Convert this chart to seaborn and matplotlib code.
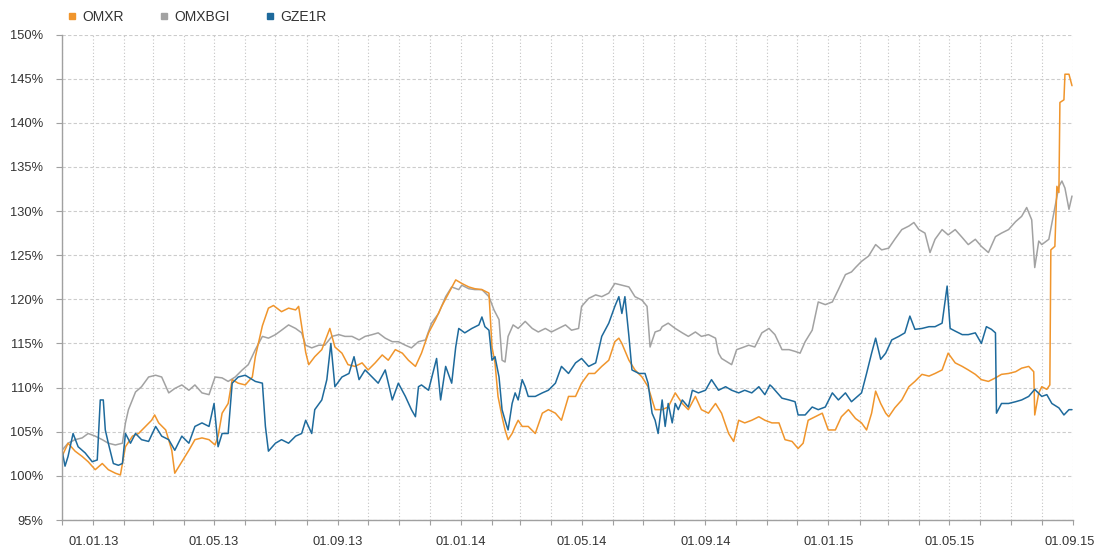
import pandas as pd
import matplotlib
matplotlib.use('Agg')
import matplotlib.pyplot as plt
import matplotlib.dates as mdates
import matplotlib.transforms as mtransforms
from matplotlib.lines import Line2D
from matplotlib.ticker import MultipleLocator, FuncFormatter
import seaborn as sns

# Index values (%), keyed by days after 01.01.13
base_date = pd.Timestamp('2013-01-01')
series_names = ['OMXR', 'OMXBGI', 'GZE1R']
series_colors = ['#f0952c', '#a2a2a2', '#1e6a9c']

omxr_days = [-31, -25, -18, -11, -5, 2, 9, 15, 22, 27, 32, 39, 45, 52, 58, 61, 65, 72, 78, 81,
             88, 95, 101, 108, 115, 121, 124, 128, 134, 138, 144, 151, 158, 161, 168, 174, 179, 187, 194, 201,
             204, 207, 211, 214, 220, 227, 235, 240, 247, 253, 260, 267, 273, 280, 287, 293, 300, 307, 313, 320,
             326, 333, 340, 346, 353, 360, 366, 373, 379, 386, 393, 396, 399, 402, 406, 409, 412, 416, 419, 422,
             426, 432, 439, 446, 452, 459, 465, 472, 479, 485, 492, 498, 505, 512, 518, 522, 525, 532, 538, 545,
             551, 558, 565, 571, 578, 585, 591, 598, 604, 611, 618, 624, 631, 636, 641, 647, 654, 661, 667, 674,
             681, 687, 694, 700, 705, 710, 717, 724, 730, 737, 743, 750, 757, 763, 768, 773, 777, 782, 787, 790,
             796, 803, 810, 816, 823, 830, 836, 843, 849, 856, 863, 869, 876, 882, 889, 896, 902, 909, 916, 922,
             929, 934, 935, 939, 942, 947, 950, 951, 955, 957, 959, 960, 964, 965, 969, 972]
omxr_vals = [102.2, 103.7, 102.8, 102.2, 101.6, 100.7, 101.4, 100.7, 100.3, 100.1, 103.3, 104.5, 104.8, 105.6, 106.3, 106.9, 106.0, 105.2, 102.9, 100.3,
             101.6, 102.9, 104.1, 104.3, 104.1, 103.5, 104.5, 107.1, 108.2, 110.9, 110.5, 110.3, 111.2, 113.5, 117.0, 119.0, 119.3, 118.6, 119.0, 118.8,
             119.2, 117.0, 114.0, 112.6, 113.5, 114.3, 116.7, 114.6, 113.9, 112.6, 112.4, 112.8, 112.0, 112.8, 113.7, 113.1, 114.3, 113.9, 113.1, 112.4,
             113.9, 116.2, 117.7, 119.2, 120.7, 122.2, 121.8, 121.4, 121.2, 121.1, 120.7, 114.6, 112.8, 109.0, 106.7, 105.2, 104.1, 104.8, 105.6, 106.3,
             105.6, 105.6, 104.8, 107.1, 107.5, 107.1, 106.3, 109.0, 109.0, 110.5, 111.6, 111.6, 112.4, 113.1, 115.2, 115.6, 115.0, 113.1, 112.0, 111.2,
             110.1, 107.5, 107.5, 107.8, 109.4, 108.2, 107.5, 109.0, 107.5, 107.1, 108.2, 107.1, 104.8, 103.9, 106.3, 106.0, 106.3, 106.7, 106.3, 106.0,
             106.0, 104.1, 103.9, 103.1, 103.7, 106.3, 106.7, 107.1, 105.2, 105.2, 106.7, 107.5, 106.5, 106.0, 105.2, 107.1, 109.6, 108.2, 107.1, 106.7,
             107.7, 108.6, 110.1, 110.7, 111.5, 111.3, 111.6, 112.0, 113.9, 112.8, 112.4, 112.0, 111.5, 110.9, 110.7, 111.1, 111.5, 111.6, 111.8, 112.2,
             112.4, 111.8, 106.9, 109.4, 110.1, 109.8, 110.3, 125.6, 126.0, 132.8, 132.1, 142.3, 142.6, 145.5, 145.5, 144.2]

omxbgi_days = [-31, -25, -18, -11, -5, 2, 9, 15, 22, 29, 32, 35, 42, 48, 55, 62, 68, 75, 81, 88,
               95, 101, 108, 115, 121, 128, 134, 141, 148, 154, 161, 168, 174, 181, 187, 194, 201, 207, 211, 217,
               224, 230, 237, 244, 250, 257, 264, 270, 277, 283, 290, 297, 303, 310, 316, 323, 330, 336, 343, 350,
               356, 363, 366, 373, 379, 386, 393, 398, 403, 406, 409, 412, 417, 422, 429, 436, 442, 449, 455, 462,
               469, 475, 482, 485, 492, 499, 505, 512, 518, 525, 532, 538, 545, 550, 553, 558, 563, 565, 571, 578,
               585, 591, 598, 604, 611, 618, 621, 624, 631, 634, 639, 644, 651, 657, 664, 671, 677, 684, 691, 697,
               702, 707, 714, 720, 727, 734, 740, 747, 753, 757, 763, 770, 777, 783, 790, 796, 803, 810, 815, 820,
               826, 831, 836, 843, 849, 856, 863, 869, 876, 882, 889, 896, 902, 909, 916, 922, 927, 932, 935, 939,
               942, 949, 954, 959, 962, 965, 969, 972]
omxbgi_vals = [102.9, 103.7, 104.1, 104.3, 104.8, 104.5, 104.1, 103.7, 103.5, 103.7, 106.0, 107.5, 109.5, 110.1, 111.2, 111.4, 111.2, 109.4, 109.9, 110.3,
               109.7, 110.3, 109.4, 109.2, 111.2, 111.1, 110.7, 111.2, 112.0, 112.6, 114.3, 115.8, 115.6, 116.0, 116.5, 117.1, 116.7, 116.2, 114.8, 114.5,
               114.8, 114.8, 115.8, 116.0, 115.8, 115.8, 115.4, 115.8, 116.0, 116.2, 115.6, 115.2, 115.2, 114.8, 114.5, 115.2, 115.4, 117.3, 118.4, 120.3,
               121.4, 121.1, 121.6, 121.2, 121.1, 121.1, 120.3, 118.8, 117.7, 113.1, 112.9, 115.8, 117.1, 116.7, 117.5, 116.7, 116.3, 116.7, 116.3, 116.7,
               117.1, 116.5, 116.7, 119.2, 120.1, 120.5, 120.3, 120.7, 121.8, 121.6, 121.4, 120.3, 119.9, 119.2, 114.6, 116.3, 116.5, 116.9, 117.3, 116.7,
               116.2, 115.8, 116.3, 115.8, 116.0, 115.6, 113.9, 113.3, 112.8, 112.6, 114.3, 114.5, 114.8, 114.6, 116.2, 116.7, 116.0, 114.3, 114.3, 114.1,
               113.9, 115.2, 116.5, 119.7, 119.4, 119.7, 121.1, 122.8, 123.1, 123.6, 124.3, 124.9, 126.2, 125.6, 125.8, 126.8, 127.9, 128.3, 128.7, 127.9,
               127.5, 125.3, 126.8, 127.9, 127.3, 127.9, 127.0, 126.2, 126.8, 126.0, 125.3, 127.1, 127.5, 127.9, 128.8, 129.4, 130.4, 129.0, 123.6, 126.6,
               126.2, 126.8, 129.8, 132.8, 133.4, 132.6, 130.2, 131.7]

gze1r_days = [-31, -28, -25, -20, -15, -8, -1, 4, 7, 10, 12, 15, 20, 25, 29, 32, 37, 42, 48, 55,
              62, 68, 75, 81, 88, 95, 101, 108, 115, 120, 124, 128, 134, 138, 144, 151, 158, 161, 168, 171,
              174, 181, 187, 194, 201, 207, 211, 217, 220, 227, 232, 236, 240, 247, 254, 259, 264, 270, 277, 283,
              290, 297, 303, 310, 316, 320, 323, 326, 333, 341, 345, 350, 356, 360, 363, 369, 376, 383, 386, 389,
              393, 396, 399, 403, 406, 409, 412, 416, 419, 422, 426, 429, 432, 439, 446, 452, 459, 465, 472, 479,
              485, 492, 499, 505, 512, 518, 522, 525, 528, 532, 535, 542, 548, 551, 555, 558, 561, 565, 568, 571,
              575, 578, 581, 585, 591, 595, 601, 608, 614, 621, 628, 634, 641, 647, 654, 661, 667, 672, 674, 684,
              691, 697, 700, 707, 714, 720, 727, 734, 740, 747, 753, 763, 768, 773, 777, 782, 787, 793, 800, 806,
              811, 816, 823, 830, 836, 843, 848, 851, 856, 863, 869, 876, 882, 887, 892, 896, 897, 902, 909, 916,
              922, 929, 935, 942, 947, 952, 959, 964, 969, 972]
gze1r_vals = [102.9, 101.1, 102.2, 104.8, 103.3, 102.6, 101.6, 101.8, 108.6, 108.6, 105.2, 103.7, 101.4, 101.2, 101.4, 104.8, 103.7, 104.8, 104.1, 103.9,
              105.6, 104.5, 104.1, 102.9, 104.5, 103.7, 105.6, 106.0, 105.6, 108.2, 103.3, 104.8, 104.8, 110.5, 111.2, 111.4, 110.9, 110.7, 110.5, 105.6,
              102.8, 103.7, 104.1, 103.7, 104.5, 104.8, 106.3, 104.8, 107.5, 108.6, 110.9, 115.0, 110.1, 111.2, 111.6, 113.5, 110.9, 112.0, 111.2, 110.5,
              112.0, 108.6, 110.5, 109.0, 107.5, 106.7, 110.1, 110.3, 109.7, 113.3, 108.6, 112.4, 110.5, 114.6, 116.7, 116.2, 116.7, 117.1, 118.0, 116.9,
              116.5, 113.1, 113.5, 111.2, 107.5, 106.3, 105.2, 108.2, 109.4, 108.6, 110.9, 110.1, 109.0, 109.0, 109.4, 109.7, 110.5, 112.4, 111.6, 112.8,
              113.3, 112.4, 112.8, 115.8, 117.3, 119.2, 120.3, 118.4, 120.3, 115.8, 112.0, 111.6, 111.6, 110.5, 107.1, 106.3, 104.8, 108.6, 105.6, 108.2,
              106.0, 108.2, 107.5, 108.6, 107.8, 109.7, 109.4, 109.7, 110.9, 109.7, 110.1, 109.7, 109.4, 109.7, 109.4, 110.1, 109.2, 110.3, 110.1, 108.8,
              108.6, 108.4, 106.9, 106.9, 107.8, 107.5, 107.8, 109.4, 108.6, 109.4, 108.4, 109.4, 111.6, 113.9, 115.6, 113.2, 113.9, 115.4, 115.8, 116.2,
              118.1, 116.6, 116.7, 116.9, 116.9, 117.3, 121.5, 116.7, 116.4, 116.0, 116.0, 116.2, 115.0, 116.9, 116.6, 116.2, 107.1, 108.2, 108.2, 108.4,
              108.6, 109.0, 109.8, 109.0, 109.2, 108.2, 107.7, 106.9, 107.5, 107.5]

x_start = pd.Timestamp('2012-12-01')
x_end = pd.Timestamp('2015-09-01')
y_min, y_max = 95, 150

sns.set_style('white')
plt.rcParams['font.family'] = ['Liberation Sans', 'DejaVu Sans']

fig = plt.figure(figsize=(10.96, 5.46), dpi=100)
ax = fig.add_axes([62 / 1096, 26 / 546, 1011 / 1096, 485.5 / 546])

# Draw order: gray at the back, blue on top
draw_order = [('OMXBGI', omxbgi_days, omxbgi_vals), ('OMXR', omxr_days, omxr_vals), ('GZE1R', gze1r_days, gze1r_vals)]
color_map = dict(zip(series_names, series_colors))
for name, days, vals in draw_order:
    df = pd.DataFrame({'date': base_date + pd.to_timedelta(days, unit='D'), 'value': vals})
    sns.lineplot(data=df, x='date', y='value', ax=ax, color=color_map[name],
                 linewidth=1.1, estimator=None, legend=False)

ax.set_xlim(x_start, x_end)
ax.set_ylim(y_min, y_max)
ax.set_xlabel('')
ax.set_ylabel('')

ax.yaxis.set_major_locator(MultipleLocator(5))
ax.yaxis.set_major_formatter(FuncFormatter(lambda v, p: f'{v:.0f}%'))
ax.xaxis.set_major_locator(mdates.MonthLocator(bymonth=[1, 5, 9]))
ax.xaxis.set_minor_locator(mdates.MonthLocator())
ax.xaxis.set_major_formatter(mdates.DateFormatter('%d.%m.%y'))

ax.grid(axis='y', which='major', color='#cccccc', linestyle=(0, (3, 2)), linewidth=0.8)
ax.grid(axis='x', which='both', color='#c4c4c4', linestyle=(0, (1, 2)), linewidth=0.8)
ax.set_axisbelow(True)

for side in ['top', 'right']:
    ax.spines[side].set_visible(False)
for side in ['left', 'bottom']:
    ax.spines[side].set_color('#a0a0a0')
    ax.spines[side].set_linewidth(1.0)

ax.tick_params(axis='both', which='both', colors='#a0a0a0', labelcolor='#333333', labelsize=9.3)
ax.tick_params(axis='y', which='major', length=4.5, width=0.8, pad=9, left=True)
ax.tick_params(axis='x', which='both', length=3.5, width=0.8, bottom=True)
ax.tick_params(axis='x', which='major', pad=8)

# keep the last date label inside the canvas
fig.canvas.draw()
last_label = ax.get_xticklabels()[-1]
last_label.set_transform(last_label.get_transform() + mtransforms.ScaledTranslation(-3 / 100, 0, fig.dpi_scale_trans))

handles = [Line2D([], [], marker='s', linestyle='none', markersize=5, color=c) for c in series_colors]
fig.legend(handles, series_names, loc='upper left', bbox_to_anchor=(66 / 1096, 1 - 10 / 546),
           ncol=3, frameon=False, fontsize=10, handlelength=0.8, handletextpad=0.35,
           columnspacing=2.5, borderaxespad=0, borderpad=0, labelcolor='#333333')

fig.savefig('out.png', dpi=100)
